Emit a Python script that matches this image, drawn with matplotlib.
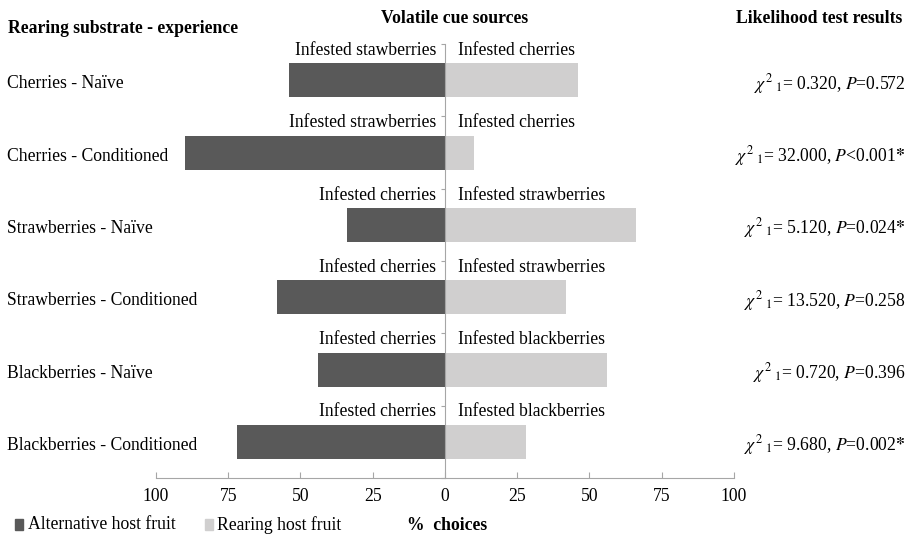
#!/usr/bin/env python3
"""Two-choice olfactometer results — diverging bars per rearing group"""
import matplotlib.pyplot as plt
import matplotlib.transforms as mtrans
import numpy as np

plt.rcParams['font.family'] = ['Liberation Serif', 'DejaVu Serif']
plt.rcParams['mathtext.fontset'] = 'stix'

groups = ['Cherries - Naïve', 'Cherries - Conditioned', 'Strawberries - Naïve',
          'Strawberries - Conditioned', 'Blackberries - Naïve', 'Blackberries - Conditioned']
alt_pct = [54, 90, 34, 58, 44, 72]     # alternative host fruit (left)
rear_pct = [46, 10, 66, 42, 56, 28]    # rearing host fruit (right)
alt_labels = ['Infested stawberries', 'Infested strawberries', 'Infested cherries',
              'Infested cherries', 'Infested cherries', 'Infested cherries']
rear_labels = ['Infested cherries', 'Infested cherries', 'Infested strawberries',
               'Infested strawberries', 'Infested blackberries', 'Infested blackberries']
chi2 = ['0.320', '32.000', '5.120', '13.520', '0.720', '9.680']
pvals = ['=0.572', '<0.001', '=0.024', '=0.258', '=0.396', '=0.002']
signif = [False, True, True, False, False, True]

DARK = '#595959'
LIGHT = '#d0cfcf'
AXIS = '#a6a6a6'
FS = 12.7

fig = plt.figure(figsize=(9.1, 5.36), dpi=100)
ax = fig.add_axes([0.1714, 0.1082, 0.635, 0.8097])

y = np.arange(len(groups))
ax.barh(y, [-v for v in alt_pct], height=0.47, color=DARK)
ax.barh(y, rear_pct, height=0.47, color=LIGHT)

ax.set_xlim(-100, 100)
ax.set_ylim(5.5, -0.5)
ax.set_xticks(np.arange(-100, 101, 25))
ax.set_xticklabels([str(abs(t)) for t in range(-100, 101, 25)], fontsize=FS)
ax.tick_params(axis='x', direction='in', length=4, color=AXIS, pad=7)
ax.set_yticks(np.arange(-0.5, len(groups) + 0.5, 1))
ax.set_yticklabels([])
ax.tick_params(axis='y', direction='out', length=3, color=AXIS)

for s in ['top', 'right']:
    ax.spines[s].set_visible(False)
ax.spines['bottom'].set_color(AXIS)
# y axis sits on the centre line
ax.spines['left'].set_position(('data', 0))
ax.spines['left'].set_color(AXIS)

left_tr = mtrans.blended_transform_factory(fig.transFigure, ax.transData)
for i in range(len(groups)):
    top = y[i] - 0.235 - 0.06
    ax.text(-3, top, alt_labels[i], ha='right', va='bottom', fontsize=FS)
    ax.text(4.5, top, rear_labels[i], ha='left', va='bottom', fontsize=FS)
    ax.text(0.008, y[i] + 0.05, groups[i], ha='left', va='center', fontsize=FS,
            transform=left_tr)
    s = r'$\chi^{2}{}_{\ 1}$= ' + chi2[i] + r', $P$' + pvals[i]
    if signif[i]:
        s += r'$\mathbf{*}$'
    ax.text(0.995, y[i] + 0.05, s, ha='right', va='center', fontsize=FS, transform=left_tr)

# headers
fig.text(0.009, 0.947, 'Rearing substrate - experience', fontsize=FS, fontweight='bold',
         ha='left', va='center')
fig.text(0.5, 0.966, 'Volatile cue sources', fontsize=FS, fontweight='bold',
         ha='center', va='center')
fig.text(0.992, 0.966, 'Likelihood test results', fontsize=FS, fontweight='bold',
         ha='right', va='center')

# legend along the bottom
fig.patches.append(plt.Rectangle((0.016, 0.012), 0.009, 0.02, color=DARK,
                                 transform=fig.transFigure, figure=fig))
fig.text(0.031, 0.021, 'Alternative host fruit', fontsize=FS, va='center')
fig.patches.append(plt.Rectangle((0.225, 0.012), 0.009, 0.02, color=LIGHT,
                                 transform=fig.transFigure, figure=fig))
fig.text(0.239, 0.021, 'Rearing host fruit', fontsize=FS, va='center')
fig.text(0.447, 0.019, '%  choices', fontsize=FS, fontweight='bold', va='center')

plt.savefig('out.png', dpi=100)
